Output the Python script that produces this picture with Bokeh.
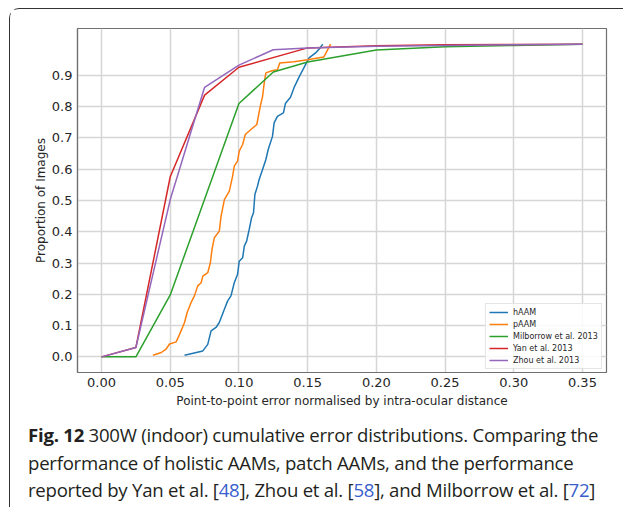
from bokeh.plotting import figure
from bokeh.layouts import column
from bokeh.models import Div, FixedTicker, Legend, LegendItem
from bokeh.embed import file_html
from bokeh.resources import INLINE

# ---- data ----
haam_x = [0.0604, 0.0737, 0.0773, 0.0797, 0.0833, 0.0857, 0.0894, 0.0918, 0.0942, 0.0966,
          0.0990, 0.1002, 0.1027, 0.1039, 0.1056, 0.1075, 0.1092, 0.1106, 0.1116, 0.1135,
          0.1147, 0.1172, 0.1196, 0.1213, 0.1244, 0.1256, 0.1280, 0.1324, 0.1338, 0.1375,
          0.1405, 0.1440, 0.1478, 0.1510, 0.1558, 0.1590, 0.1610]
haam_y = [0.005, 0.019, 0.040, 0.083, 0.094, 0.110, 0.152, 0.179, 0.195, 0.237,
          0.264, 0.306, 0.317, 0.354, 0.370, 0.408, 0.445, 0.461, 0.519, 0.546,
          0.567, 0.599, 0.631, 0.663, 0.705, 0.748, 0.769, 0.780, 0.810, 0.830,
          0.865, 0.897, 0.929, 0.956, 0.972, 0.988, 1.000]

paam_x = [0.0374, 0.0435, 0.0470, 0.0495, 0.0543, 0.0568, 0.0604, 0.0623, 0.0652, 0.0676,
          0.0700, 0.0725, 0.0737, 0.0773, 0.0792, 0.0804, 0.0821, 0.0857, 0.0870, 0.0894,
          0.0930, 0.0954, 0.0966, 0.0990, 0.1002, 0.1027, 0.1046, 0.1087, 0.1130, 0.1155,
          0.1172, 0.1184, 0.1196, 0.1240, 0.1280, 0.1297, 0.1400, 0.1498, 0.1618, 0.1667]
paam_y = [0.005, 0.014, 0.025, 0.041, 0.048, 0.072, 0.110, 0.142, 0.174, 0.195,
          0.227, 0.237, 0.258, 0.269, 0.301, 0.344, 0.381, 0.402, 0.450, 0.503,
          0.530, 0.578, 0.610, 0.626, 0.658, 0.679, 0.711, 0.727, 0.743, 0.801,
          0.833, 0.876, 0.908, 0.915, 0.918, 0.940, 0.944, 0.950, 0.959, 1.000]

milb_x = [0.0, 0.025, 0.05, 0.10, 0.125, 0.15, 0.20, 0.25, 0.30, 0.35]
milb_y = [0.0, 0.0, 0.198, 0.810, 0.911, 0.943, 0.981, 0.992, 0.996, 1.000]

yan_x = [0.0, 0.025, 0.05, 0.075, 0.10, 0.15, 0.20, 0.25, 0.30, 0.35]
yan_y = [0.0, 0.030, 0.576, 0.837, 0.926, 0.988, 0.995, 0.998, 0.999, 1.000]

zhou_x = [0.0, 0.025, 0.05, 0.075, 0.10, 0.125, 0.15, 0.20, 0.25, 0.30, 0.35]
zhou_y = [0.0, 0.030, 0.503, 0.862, 0.933, 0.982, 0.988, 0.993, 0.996, 0.998, 1.000]

series_names = ["hAAM", "pAAM", "Milborrow et al. 2013", "Yan et al. 2013", "Zhou et al. 2013"]
series_colors = ["#1f77b4", "#ff7f0e", "#2ca02c", "#d62728", "#9467bd"]

x_ticks = [0.0, 0.05, 0.10, 0.15, 0.20, 0.25, 0.30, 0.35]
x_tick_labels = ["0.00", "0.05", "0.10", "0.15", "0.20", "0.25", "0.30", "0.35"]
y_ticks = [0.0, 0.1, 0.2, 0.3, 0.4, 0.5, 0.6, 0.7, 0.8, 0.9]
y_tick_labels = ["0.0", "0.1", "0.2", "0.3", "0.4", "0.5", "0.6", "0.7", "0.8", "0.9"]

x_label = "Point-to-point error normalised by intra-ocular distance"
y_label = "Proportion of Images"

FONT = "DejaVu Sans"

p = figure(width=612, height=402, output_backend="svg", toolbar_location=None,
           x_range=(-0.0175, 0.3675), y_range=(-0.05, 1.05),
           min_border_left=67, min_border_right=16, min_border_top=19, min_border_bottom=39)
p.background_fill_color = "white"
p.border_fill_color = "white"
p.outline_line_color = "#707070"
p.outline_line_width = 1.2

series = [(haam_x, haam_y), (paam_x, paam_y), (milb_x, milb_y), (yan_x, yan_y), (zhou_x, zhou_y)]
items = []
for (xs, ys), name, col in zip(series, series_names, series_colors):
    r = p.line(xs, ys, line_color=col, line_width=1.5)
    items.append(LegendItem(label=name, renderers=[r]))

for ax in (p.xaxis[0], p.yaxis[0]):
    ax.axis_line_color = "#707070"
    ax.axis_line_width = 1.2
    ax.major_tick_line_color = None
    ax.major_tick_out = 0
    ax.major_tick_in = 0
    ax.minor_tick_line_color = None
    ax.major_label_text_font = FONT
    ax.major_label_text_font_size = "13px"
    ax.major_label_text_color = "#262626"
    ax.major_label_standoff = 5
    ax.axis_label_text_font = FONT
    ax.axis_label_text_font_size = "12px"
    ax.axis_label_text_font_style = "normal"
    ax.axis_label_text_color = "#262626"
    ax.axis_label_standoff = 4
p.yaxis[0].axis_label_standoff = 1

p.xaxis.ticker = FixedTicker(ticks=x_ticks)
p.yaxis.ticker = FixedTicker(ticks=y_ticks)
p.xaxis.major_label_overrides = dict(zip(x_ticks, x_tick_labels))
p.yaxis.major_label_overrides = dict(zip(y_ticks, y_tick_labels))
p.xaxis.axis_label = x_label
p.yaxis.axis_label = y_label

p.xgrid.ticker = FixedTicker(ticks=x_ticks)
p.ygrid.ticker = FixedTicker(ticks=y_ticks)
for g in (p.xgrid[0], p.ygrid[0]):
    g.grid_line_color = "#d6d6d6"
    g.grid_line_width = 1.5

legend = Legend(items=items, location=(408, 3))
legend.label_text_font = FONT
legend.label_text_font_size = "8px"
legend.label_text_color = "#262626"
legend.label_height = 10
legend.glyph_height = 10
legend.glyph_width = 19
legend.label_standoff = 5
legend.spacing = 2
legend.padding = 3
legend.margin = 0
legend.border_line_color = "#cccccc"
legend.background_fill_alpha = 0.85
p.add_layout(legend)

caption_html = (
    '<b>Fig. 12</b> 300W (indoor) cumulative error distributions. Comparing the<br>'
    'performance of holistic AAMs, patch AAMs, and the performance<br>'
    'reported by Yan et al. [<span style="color:#3a5fcd">48</span>], '
    'Zhou et al. [<span style="color:#3a5fcd">58</span>], and Milborrow et al. '
    '[<span style="color:#3a5fcd">72</span>]'
)
cap = Div(text=caption_html, width=612, height=88,
          styles={"font-family": "Open Sans", "font-size": "18.6px", "color": "#231f20",
                  "line-height": "27.5px", "white-space": "nowrap", "padding-left": "13px",
                  "padding-top": "5px", "letter-spacing": "-0.25px",
                  "box-sizing": "border-box"})

layout = column(p, cap, spacing=0,
                styles={"border-left": "1px solid #333333", "border-top": "1px solid #333333",
                        "border-top-left-radius": "10px", "background": "white",
                        "margin-left": "9px", "margin-top": "8px"})

open("out.html", "w").write(file_html(layout, INLINE))
